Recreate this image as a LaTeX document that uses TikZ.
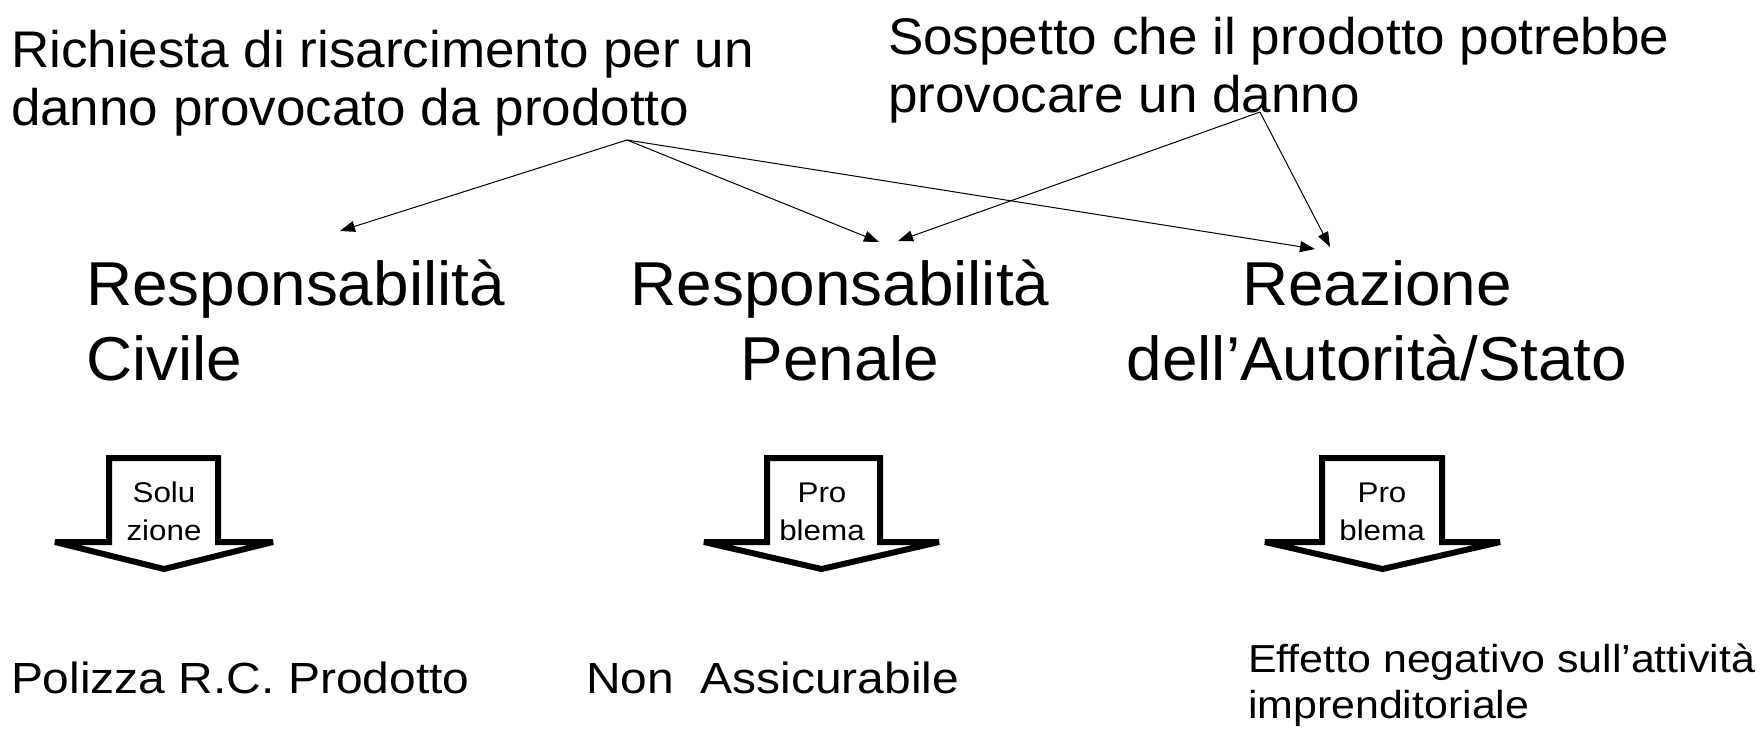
\documentclass[tikz,border=0pt]{standalone}
\usepackage{fontspec}
\setmainfont{Liberation Sans}[FakeStretch=1.03]
\newfontfamily\widefont{Liberation Sans}[FakeStretch=1.1]
\usetikzlibrary{arrows.meta}
\newcommand\twoL[2]{\vtop{\hbox{#1}\hbox{#2}}}
\newcommand\twoC[2]{\vtop{\halign{\hfil##\hfil\cr#1\cr#2\cr}}}
\tikzset{
  txt/.style={inner sep=0pt, outer sep=0pt},
  conn/.style={line width=1pt, -{Triangle[length=15pt,width=11pt]}},
  blockarrow/.style={line width=6pt, line join=miter, miter limit=4, fill=white},
  lbl/.style={inner sep=0pt, outer sep=0pt, anchor=base, font=\widefont\fontsize{28.5}{38}\selectfont},
  big/.style={txt, font=\fontsize{62}{75}\selectfont},
  top/.style={txt, anchor=base west, font=\fontsize{51.5}{58}\selectfont},
  bottom/.style={txt, anchor=base west, font=\widefont\fontsize{43.6}{50}\selectfont}
}
\begin{document}
\begin{tikzpicture}[x=1pt, y=-1pt]
\fill[white] (0,0) rectangle (1762,732);
\useasboundingbox (0,0) rectangle (1762,732);

% top texts
\node[top] (rich) at (11,67) {\twoL{Richiesta di risarcimento per un}{danno provocato da prodotto}};
\node[top] (sosp) at (888,54) {\twoL{Sospetto che il prodotto potrebbe}{provocare un danno}};

% middle texts
\node[big, anchor=base west] (civ) at (86,305) {\twoL{Responsabilità}{Civile}};
\node[big, anchor=base] (pen) at (840,305) {\twoC{Responsabilità}{Penale}};
\node[big, anchor=base] (rea) at (1377,305) {\twoC{Reazione}{dell’Autorità/Stato}};

% connector end points
\coordinate (s1) at (627,140);
\coordinate (s2) at (1260,112);
\coordinate (c1) at (340,231);
\coordinate (p1) at (879,242);
\coordinate (p2) at (898,241);
\coordinate (r1) at (1315,249);
\coordinate (r2) at (1330,247);

\draw[conn] (s1) -- (c1);
\draw[conn] (s1) -- (p1);
\draw[conn] (s1) -- (r1);
\draw[conn] (s2) -- (p2);
\draw[conn] (s2) -- (r2);

% block arrows
\draw[blockarrow] (109,458) -- (109,542) -- (55,542) -- (164,569) -- (273,542) -- (218,542) -- (218,458) -- cycle;
\draw[blockarrow] (767,458) -- (767,542) -- (704,542) -- (821.5,569) -- (939,542) -- (880,542) -- (880,458) -- cycle;
\draw[blockarrow] (1322,458) -- (1322,542) -- (1265,542) -- (1382.5,569) -- (1500,542) -- (1442,542) -- (1442,458) -- cycle;

\node[lbl] (l1) at (164,502) {\twoC{Solu}{zione}};
\node[lbl] (l2) at (822,502) {\twoC{Pro}{blema}};
\node[lbl] (l3) at (1382,502) {\twoC{Pro}{blema}};

% bottom texts
\node[bottom] (pol) at (11,693) {Polizza R.C. Prodotto};
\node[bottom] (non) at (586,693) {Non\ \ Assicurabile};
\node[txt, anchor=base west, font=\widefont\fontsize{39}{46}\selectfont] (eff) at (1248,672) {\twoL{Effetto negativo sull’attività}{imprenditoriale}};
\end{tikzpicture}
\end{document}
